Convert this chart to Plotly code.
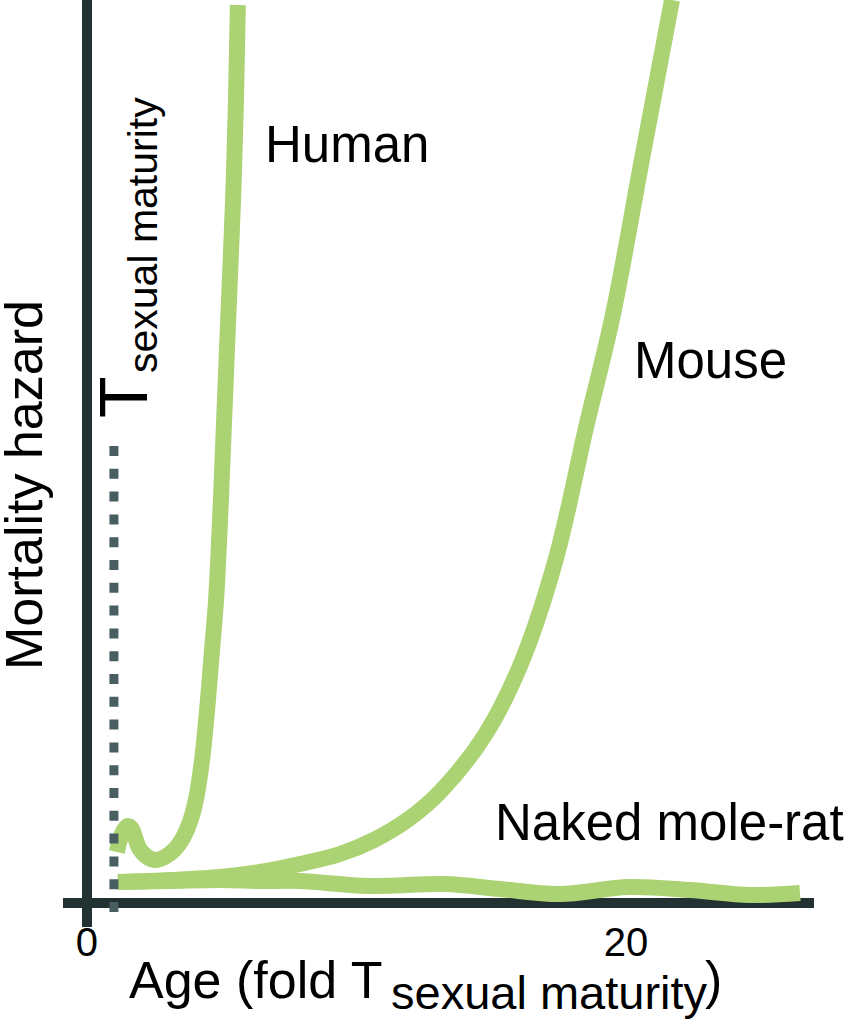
import plotly.graph_objects as go

# values (age in fold T_sexual maturity, hazard in arbitrary units)
human_age = [1.11, 1.22, 1.37, 1.52, 1.67, 1.78, 1.93, 2.19, 2.52, 2.89, 3.27, 3.56,
             3.82, 4.04, 4.27, 4.49, 4.64, 4.79, 4.97, 5.12, 5.27, 5.42, 5.53, 5.60]
human_hazard = [5.1, 6.3, 7.3, 7.7, 7.4, 6.6, 5.5, 4.7, 4.3, 4.6, 5.4, 6.5,
                8.1, 10.3, 14.3, 20.3, 25.3, 30.3, 40.3, 50.3, 60.3, 70.3, 80.3, 89.8]

mouse_age = [1.15, 3.08, 4.94, 6.42, 7.90, 9.39, 10.65, 11.99, 13.10, 14.77, 16.07,
             17.37, 18.55, 19.50, 20.59, 21.71]
mouse_hazard = [2.1, 2.3, 2.6, 3.1, 3.9, 4.9, 6.3, 8.5, 11.1, 16.8, 23.7,
                34.1, 47.9, 58.6, 74.3, 90.3]

nmr_age = [1.15, 3.08, 4.94, 6.42, 7.90, 10.46, 13.28, 15.32, 17.55, 20.11, 22.37, 24.60, 26.46]
nmr_hazard = [2.1, 2.2, 2.3, 2.2, 2.2, 1.7, 1.9, 1.4, 0.9, 1.6, 1.3, 0.8, 1.0]

t_sexual = 1
t_line_hazard = [45.7, -0.9]

x_ticks = [0, 20]
x_range = [-0.89, 26.98]
y_range = [-2.4, 90.3]

GREEN = "#acd373"
AXIS = "#223232"
DOTS = "#485e61"
FONT = "Liberation Sans, Arial, sans-serif"

W, H = 855, 1024
L, R, T, B = 63, 41, 0, 97
PW, PH = W - L - R, H - T - B


def px(x):
    return (x - L) / PW


def py(y):
    return (H - B - y) / PH


fig = go.Figure()
for xs, ys in [(nmr_age, nmr_hazard), (mouse_age, mouse_hazard), (human_age, human_hazard)]:
    fig.add_trace(go.Scatter(x=xs, y=ys, mode="lines",
                             line=dict(color=GREEN, width=16, shape="spline", smoothing=1.0),
                             hoverinfo="skip"))

fig.add_trace(go.Scatter(x=[t_sexual, t_sexual], y=t_line_hazard, mode="lines",
                         line=dict(color=DOTS, width=9, dash="10px,12.8px"),
                         hoverinfo="skip"))

annots = [
    dict(text="Human", x=px(263), y=py(145), xanchor="left", yanchor="middle", size=51),
    dict(text="Mouse", x=px(632), y=py(361), xanchor="left", yanchor="middle", size=51),
    dict(text="Naked mole-rat", x=px(493), y=py(822), xanchor="left", yanchor="middle", size=51),
    dict(text="Mortality hazard", x=px(24), y=py(485), xanchor="center", yanchor="middle",
         size=52, textangle=-90),
    dict(text="T", x=px(123), y=py(397), xanchor="center", yanchor="middle",
         size=68, textangle=-90),
    dict(text="sexual maturity", x=px(143), y=py(235), xanchor="center", yanchor="middle",
         size=41, textangle=-90),
    dict(text="Age (fold T", x=px(127), y=py(980), xanchor="left", yanchor="middle", size=52),
    dict(text="sexual maturity", x=px(389), y=py(992), xanchor="left", yanchor="middle", size=47),
    dict(text=")", x=px(703), y=py(980), xanchor="left", yanchor="middle", size=52),
]
for a in annots:
    fig.add_annotation(text=a["text"], x=a["x"], y=a["y"], xref="paper", yref="paper",
                       xanchor=a["xanchor"], yanchor=a["yanchor"], showarrow=False,
                       textangle=a.get("textangle", 0),
                       font=dict(family=FONT, size=a["size"], color="black"))

fig.update_layout(
    width=W, height=H,
    margin=dict(l=L, r=R, t=T, b=B),
    paper_bgcolor="white", plot_bgcolor="white",
    showlegend=False,
    font=dict(family=FONT, color="black"),
)
fig.update_xaxes(range=x_range, showgrid=False, showline=False,
                 zeroline=True, zerolinecolor=AXIS, zerolinewidth=10,
                 tickmode="array", tickvals=x_ticks, ticktext=[str(v) for v in x_ticks],
                 ticks="", ticklabelstandoff=-12,
                 tickfont=dict(family=FONT, size=40, color="black"))
fig.update_yaxes(range=y_range, showgrid=False, showline=False,
                 zeroline=True, zerolinecolor=AXIS, zerolinewidth=10,
                 showticklabels=False, ticks="")

# page body margin off so the figure sits at the window's top-left corner
fig.write_html("out.html", config={"displayModeBar": False},
               post_script="document.body.style.margin='0';")
